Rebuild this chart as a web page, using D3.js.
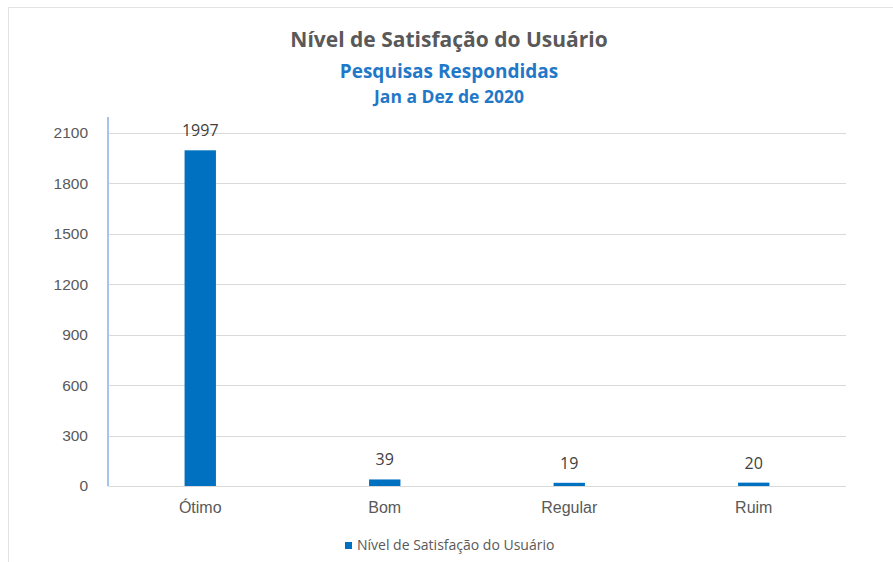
<!DOCTYPE html>
<html>
<head>
<meta charset="utf-8">
<script src="https://cdn.jsdelivr.net/npm/d3@7"></script>
<style>
  body { margin: 0; background: #fff; }
  svg { display: block; font-family: "Open Sans", sans-serif; }
</style>
</head>
<body>
<script>
const categories = ['Ótimo', 'Bom', 'Regular', 'Ruim'];
const values = [1997, 39, 19, 20];
const yTicks = [0, 300, 600, 900, 1200, 1500, 1800, 2100];
const seriesName = 'Nível de Satisfação do Usuário';

const width = 893, height = 562;
const margin = {top: 133, bottom: 76, left: 108, right: 47};

const svg = d3.select('body')
  .append('svg')
  .attr('width', width)
  .attr('height', height);

// chart frame
svg.append('rect')
  .attr('x', 8.5).attr('y', 7.5)
  .attr('width', width).attr('height', height)
  .attr('fill', '#fff')
  .attr('stroke', '#e3e3e3');

const xScale = d3.scaleBand()
  .domain(categories)
  .range([margin.left, width - margin.right])
  .paddingInner(0.83)
  .paddingOuter(0.415);

const yScale = d3.scaleLinear()
  .domain([0, 2100])
  .range([height - margin.bottom, margin.top]);

// gridlines
svg.append('g')
  .attr('id', 'grid')
  .selectAll('line')
  .data(yTicks)
  .enter()
  .append('line')
  .attr('x1', margin.left)
  .attr('x2', width - margin.right)
  .attr('y1', d => Math.round(yScale(d)) + 0.5)
  .attr('y2', d => Math.round(yScale(d)) + 0.5)
  .attr('stroke', '#d9d9d9')
  .attr('stroke-width', 1);

// y axis labels
const yAxis = svg.append('g')
  .attr('id', 'y-axis')
  .attr('transform', `translate(${margin.left}, 0)`)
  .call(d3.axisLeft(yScale).tickValues(yTicks).tickFormat(d3.format('d')).tickSize(0).tickPadding(20));
yAxis.select('.domain').remove();
yAxis.selectAll('text')
  .attr('fill', '#595959')
  .style('font-size', '15.5px');

// y axis line
svg.append('line')
  .attr('x1', margin.left).attr('x2', margin.left)
  .attr('y1', margin.top - 16).attr('y2', height - margin.bottom)
  .attr('stroke', '#a8c3ea')
  .attr('stroke-width', 2);

// bars
svg.append('g')
  .attr('id', 'bars')
  .attr('fill', '#0070c0')
  .selectAll('rect')
  .data(values)
  .enter()
  .append('rect')
  .attr('x', (d, i) => xScale(categories[i]))
  .attr('y', d => yScale(d))
  .attr('width', xScale.bandwidth())
  .attr('height', d => yScale(0) - yScale(d));

// data labels
svg.append('g')
  .attr('id', 'labels')
  .selectAll('text')
  .data(values)
  .enter()
  .append('text')
  .attr('x', (d, i) => xScale(categories[i]) + xScale.bandwidth() / 2)
  .attr('y', d => yScale(d) - 14)
  .attr('text-anchor', 'middle')
  .attr('fill', '#404040')
  .style('font-size', '16px')
  .text(d => d);

// x axis labels
const xAxis = svg.append('g')
  .attr('id', 'x-axis')
  .attr('transform', `translate(0, ${height - margin.bottom})`)
  .call(d3.axisBottom(xScale).tickSize(0).tickPadding(16));
xAxis.select('.domain').remove();
xAxis.selectAll('text')
  .attr('fill', '#595959')
  .style('font-size', '16px');

// titles
svg.append('text')
  .attr('x', 449).attr('y', 47)
  .attr('text-anchor', 'middle')
  .attr('fill', '#595959')
  .style('font-size', '21px')
  .style('font-weight', 'bold')
  .text('Nível de Satisfação do Usuário');

svg.append('text')
  .attr('x', 449).attr('y', 78)
  .attr('text-anchor', 'middle')
  .attr('fill', '#1f78c8')
  .style('font-size', '19px')
  .style('font-weight', 'bold')
  .text('Pesquisas Respondidas');

svg.append('text')
  .attr('x', 449).attr('y', 103)
  .attr('text-anchor', 'middle')
  .attr('fill', '#1f78c8')
  .style('font-size', '17.5px')
  .style('font-weight', 'bold')
  .text('Jan a Dez de 2020');

// legend
const legend = svg.append('g')
  .attr('id', 'legend')
  .attr('transform', 'translate(345, 542)');
legend.append('rect')
  .attr('width', 7).attr('height', 7)
  .attr('fill', '#0070c0');
legend.append('text')
  .attr('x', 12).attr('y', 8)
  .attr('fill', '#595959')
  .style('font-size', '14px')
  .text(seriesName);
</script>
</body>
</html>
